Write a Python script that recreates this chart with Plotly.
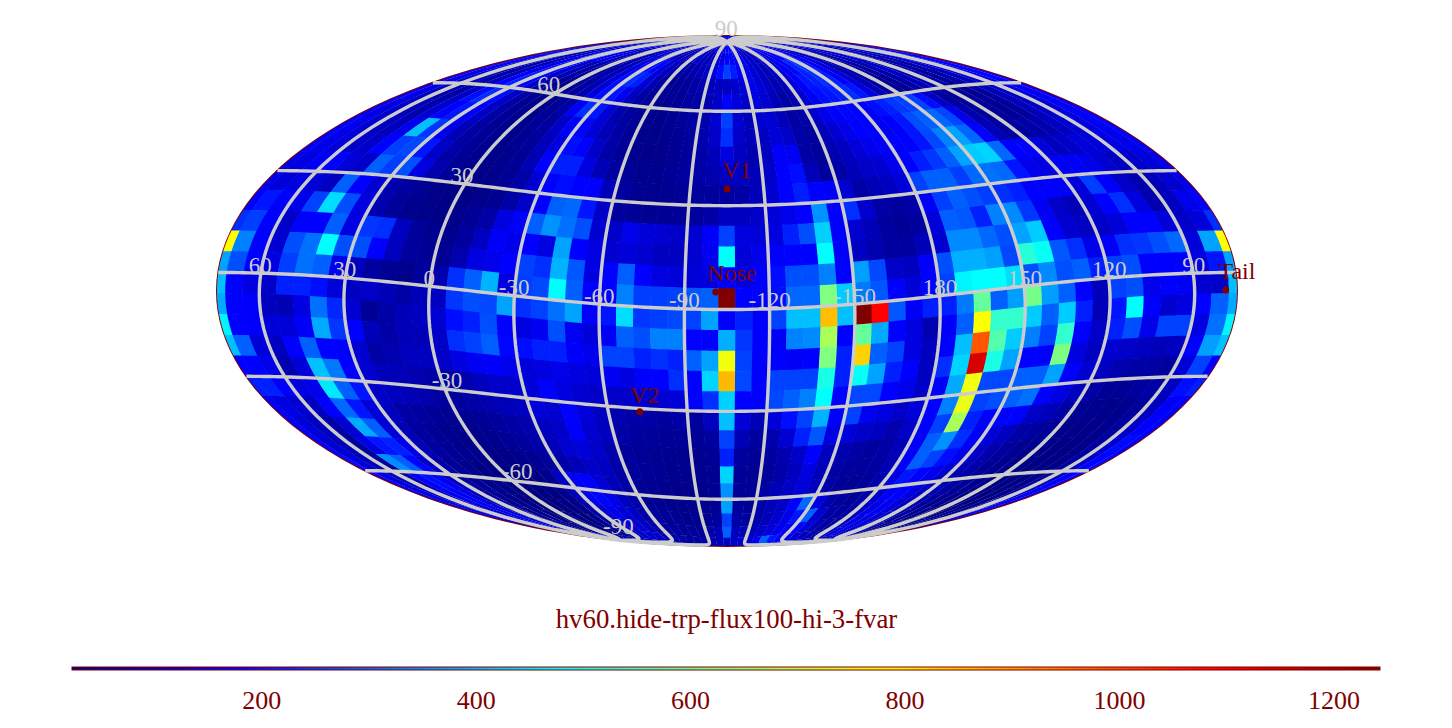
import plotly.graph_objects as go

# 60 x 30 sky map values. Columns run left to right, rows north to south.
row_n87 = [180,170,150,140,130,120,130,150,170,160,140,130,120,110,110,120,130,140,120,110,110,120,130,140,130,120,110,120,130,160,175,180,170,150,130,120,110,120,130,150,160,170,180,170,150,140,130,120,110,110,120,130,140,130,120,130,140,150,160,170]
row_n81 = [170,160,140,110,90,90,110,130,150,140,120,100,90,90,100,110,130,140,120,100,90,90,110,120,110,100,90,100,120,140,175,180,160,150,130,110,100,110,130,140,150,170,190,180,150,130,110,100,90,90,110,120,110,100,90,100,120,130,150,160]
row_n75 = [210,190,150,110,90,100,140,250,220,170,130,100,80,70,80,100,130,170,190,180,130,100,80,70,70,80,90,110,140,190,252,210,170,150,130,100,90,100,130,150,180,220,240,210,170,130,100,80,70,80,100,120,110,90,80,90,120,140,170,190]
row_n69 = [190,170,130,100,80,90,150,190,170,120,90,70,60,60,70,90,130,190,230,213,130,90,60,50,50,60,70,80,90,100,100,110,130,150,130,100,80,90,130,170,200,213,230,213,170,130,90,70,60,60,80,100,100,80,70,80,110,130,150,170]
row_n63 = [180,150,110,90,70,90,170,213,175,110,70,50,45,50,60,80,130,190,200,160,100,70,50,45,45,50,60,70,80,110,175,130,110,130,120,90,70,80,120,160,190,200,213,230,200,140,90,60,50,50,70,90,90,70,60,70,100,120,150,175]
row_n57 = [170,140,100,80,70,100,190,230,190,110,70,45,40,40,50,70,170,230,200,130,80,60,45,40,40,45,55,65,80,120,252,120,90,120,120,90,65,70,110,150,170,180,175,175,190,213,240,252,252,190,110,60,50,50,50,60,90,110,140,165]
row_n51 = [170,140,110,90,80,120,175,200,170,110,70,50,40,40,50,60,110,170,175,130,90,70,50,40,35,40,50,60,80,110,230,110,90,100,130,110,70,60,90,120,150,175,175,160,170,200,270,290,300,260,150,80,55,50,50,60,90,110,130,160]
row_n45 = [175,150,120,100,90,150,405,240,150,90,65,50,40,35,45,55,90,140,190,175,110,70,50,40,35,35,45,55,70,90,140,100,80,100,170,160,70,55,80,100,130,150,170,175,175,200,260,330,370,300,175,90,60,60,70,80,100,120,140,160]
row_n39 = [165,150,130,110,110,175,250,260,200,110,70,50,40,35,40,50,85,175,213,213,140,90,60,50,40,40,50,60,70,80,100,100,90,110,175,190,90,60,70,90,110,120,150,175,210,240,290,370,420,430,300,175,175,130,100,110,130,130,140,150]
row_n33 = [150,140,170,175,130,110,290,250,270,140,80,55,40,35,35,50,70,120,175,190,175,175,90,60,45,40,45,50,60,60,60,70,90,120,175,210,175,170,120,70,85,100,130,252,290,290,250,300,310,300,200,150,140,160,170,150,120,100,110,130]
row_n27 = [150,130,140,130,100,290,175,120,80,60,45,35,30,30,35,45,70,110,175,290,300,200,110,60,50,45,45,50,60,70,100,100,110,130,150,175,350,175,230,120,70,60,70,170,250,290,270,250,230,213,175,175,170,130,250,170,110,80,90,120]
row_n21 = [175,200,175,150,252,440,270,140,80,55,40,35,30,35,50,70,140,175,290,350,310,270,120,110,150,130,120,110,120,170,252,140,130,140,213,270,425,175,120,90,60,50,60,130,290,280,213,330,340,240,160,110,90,120,175,230,140,80,100,150]
row_n15 = [230,250,175,110,175,175,290,140,240,230,100,55,40,40,60,100,170,150,175,140,370,175,140,120,130,120,100,100,120,160,480,130,150,175,175,175,480,170,100,80,60,60,90,120,340,340,300,270,370,420,175,120,100,110,130,175,175,130,110,130]
row_n09 = [785,330,175,120,270,310,480,270,270,175,100,60,50,50,80,140,150,175,252,230,390,280,140,175,290,175,140,130,130,140,175,140,175,190,270,270,328,175,365,260,110,100,170,270,385,385,365,260,530,490,280,230,150,170,230,240,270,300,130,370]
row_n03 = [370,270,175,140,250,310,290,150,100,60,45,35,60,80,230,290,390,140,250,260,480,290,175,175,330,250,250,252,280,290,1243,175,175,190,300,300,633,420,320,280,175,130,175,252,470,480,480,440,270,340,270,290,213,250,270,175,175,175,140,200]
row_s03 = [405,175,140,110,213,213,190,130,100,110,90,70,90,100,240,270,260,370,230,252,310,370,175,200,440,240,250,260,252,370,175,213,170,252,405,405,862,405,1243,1090,280,165,213,213,320,600,290,365,620,365,290,175,90,252,270,150,175,160,120,110]
row_s09 = [380,175,170,100,85,140,310,220,120,50,70,90,100,120,190,213,270,175,140,160,270,160,130,160,290,270,328,328,175,175,385,240,175,165,330,340,680,175,600,380,175,140,80,170,290,785,540,540,420,290,420,213,90,200,480,175,120,140,175,290]
row_s15 = [470,175,170,130,130,165,380,240,175,90,70,90,90,110,230,252,290,180,190,213,213,170,150,252,252,213,230,213,290,370,770,252,175,175,165,175,633,213,840,290,252,140,100,175,405,990,580,420,328,252,540,175,110,213,270,150,252,252,140,310]
row_s21 = [405,290,130,100,175,290,175,175,120,70,80,100,100,110,140,160,170,150,130,140,150,140,130,160,140,175,175,230,175,430,870,260,175,252,252,252,510,213,490,370,213,175,100,230,430,1140,510,370,175,175,630,140,100,120,110,100,90,100,175,367]
row_s27 = [175,175,150,80,130,405,320,175,120,90,90,80,70,70,80,100,110,110,130,175,140,120,110,110,110,110,120,130,175,230,425,175,175,260,290,328,480,175,260,260,175,150,110,170,380,770,260,260,290,290,370,175,120,100,80,70,70,60,130,252]
row_s33 = [213,213,170,140,150,455,290,200,110,100,90,80,60,60,70,80,90,100,130,120,175,130,100,80,70,70,60,70,60,100,405,130,85,130,190,252,390,175,252,160,140,110,130,175,328,760,252,270,290,310,175,140,100,70,50,50,60,70,100,190]
row_s39 = [170,140,120,100,175,300,200,130,100,70,60,50,45,45,50,60,70,80,100,110,170,120,100,70,60,55,50,50,50,60,252,85,60,80,120,213,280,140,130,110,100,80,110,175,252,680,213,175,175,175,110,90,70,50,40,35,40,60,100,170]
row_s45 = [170,130,100,70,120,380,290,130,85,60,50,40,35,35,40,50,60,70,90,120,130,110,80,60,50,45,40,40,40,50,213,60,50,60,80,110,175,100,80,70,60,70,90,170,290,350,230,170,130,100,70,60,50,40,35,35,40,60,110,175]
row_s51 = [175,120,90,60,140,200,213,150,90,60,50,40,35,30,30,35,45,55,70,90,110,100,70,55,50,45,40,40,40,45,430,50,45,55,70,100,140,90,70,60,55,60,85,170,290,252,190,150,110,80,60,45,40,35,30,30,35,60,120,185]
row_s57 = [185,130,90,60,345,290,180,110,70,50,40,30,28,26,26,30,40,100,170,175,130,90,65,50,45,40,35,35,35,45,350,50,50,70,90,110,130,100,70,50,45,55,80,140,200,175,150,120,90,70,50,40,35,30,28,28,35,60,110,180]
row_s63 = [175,130,100,70,170,190,160,100,65,50,40,30,26,24,24,28,35,90,160,180,150,100,70,50,45,40,35,35,35,50,367,60,50,70,90,110,175,300,140,80,55,50,70,110,170,175,140,110,85,65,50,40,32,28,26,28,35,60,100,170]
row_s69 = [170,130,110,90,150,170,140,90,60,45,35,28,24,22,22,26,32,70,120,150,130,100,75,55,50,45,40,40,40,60,252,70,60,70,90,120,150,200,290,120,70,55,65,100,150,160,130,100,80,60,45,35,30,26,24,26,35,60,100,160]
row_s75 = [175,150,130,110,130,150,130,90,60,45,35,30,26,25,25,28,35,60,100,130,125,100,75,60,55,50,50,55,65,90,290,100,80,90,110,130,150,170,180,130,90,65,65,95,140,150,125,100,80,60,45,38,32,28,26,30,40,70,110,150]
row_s81 = [170,160,150,130,130,140,120,90,65,50,40,35,30,30,30,35,40,55,85,110,110,100,80,70,65,60,60,65,75,90,100,110,110,120,150,290,200,180,150,120,95,75,70,90,130,140,120,100,80,60,50,42,36,32,30,35,50,85,120,150]
row_s87 = [120,115,110,105,100,100,100,95,90,85,80,75,70,70,70,75,80,85,90,95,100,100,95,90,85,85,85,90,95,100,100,105,110,110,120,130,140,135,125,115,105,95,90,90,95,100,100,95,90,85,80,75,70,70,70,75,85,95,105,115]

rows = [row_n87, row_n81, row_n75, row_n69, row_n63, row_n57, row_n51, row_n45, row_n39, row_n33,
        row_n27, row_n21, row_n15, row_n09, row_n03, row_s03, row_s09, row_s15, row_s21, row_s27,
        row_s33, row_s39, row_s45, row_s51, row_s57, row_s63, row_s69, row_s75, row_s81, row_s87]
for r in rows:
    assert len(r) == 60, len(r)

lon_ticks = [60, 30, 0, -30, -60, -90, -120, -150, 180, 150, 120, 90]
lat_ticks = [90, 60, 30, -30, -60, -90]
lat_tick_anchor = [89.9, 58.5, 28.5, -31.5, -61.5, -89.6]
meridian_lons = [60, 30, 0, -30, -60, -90, -120, -150, 180, 150, 120, 90]
parallel_lats = [60, 30, 0, -30, -60]
place_names = ["V1", "Nose", "V2", "Tail"]
place_lons = [255, 259, 288, 79]
place_lats = [35, 5, -31, -5]
label_lon_shift = [2, 3, 3.5, 2.5]
label_lat_shift = [1.5, 1.5, 0.7, 1.5]
colorbar_ticks = [200, 400, 600, 800, 1000, 1200]
title_text = "hv60.hide-trp-flux100-hi-3-fvar"

CENTER = 105      # plotted longitude is the negative of the map's longitude, so it grows to the right
TILT = 5.3
GREY = "#CCCCCC"
DARK = "#800000"
SERIF = "Liberation Serif"
W, H = 1444, 720  # the page body adds 8 px of margin on each side
OVERLAP = 0.2     # degrees, hides hairline seams between neighbouring cells
jet = [[0, "#000080"], [0.125, "#0000FF"], [0.375, "#00FFFF"], [0.625, "#FFFF00"], [0.875, "#FF0000"], [1, "#800000"]]


def fx(px):
    return (px - 8) / W


def fy(py):
    return 1 - (py - 8) / H


def cell(k, r):
    w = CENTER - 180 + 6 * k - 3 - OVERLAP / 2
    e = w + 6 + OVERLAP
    n = min(90 - 6 * r + OVERLAP / 2, 89.99)
    s = max(90 - 6 * r - 6 - OVERLAP / 2, -89.99)
    steps = [w + (e - w) * i / 4 for i in range(5)]
    ring = [[steps[0], s]] + [[x, n] for x in steps] + [[x, s] for x in reversed(steps)]
    return {"type": "Feature", "id": f"{k}-{r}", "properties": {}, "geometry": {"type": "Polygon", "coordinates": [ring]}}


features, ids, vals = [], [], []
for r, row in enumerate(rows):
    for k, v in enumerate(row):
        features.append(cell(k, r))
        ids.append(f"{k}-{r}")
        vals.append(v)

fig = go.Figure()
fig.add_trace(go.Choropleth(
    geojson={"type": "FeatureCollection", "features": features},
    locations=ids, z=vals, zmin=23, zmax=1243, colorscale=jet,
    marker_line_width=0, hoverinfo="skip",
    colorbar=dict(orientation="h", x=fx(726), xanchor="center", y=fy(666.5), yanchor="top",
                  lenmode="pixels", len=1308, thickness=3, xpad=0, ypad=0,
                  outlinecolor=DARK, outlinewidth=1, tickvals=colorbar_ticks,
                  ticks="outside", ticklen=8, tickcolor="rgba(0,0,0,0)",
                  tickfont=dict(family=SERIF, size=26, color=DARK)),
))

# graticule
glon, glat = [], []
for L in meridian_lons:
    lats = list(range(-90, 91, 2))
    glon += [-L] * len(lats) + [None]
    glat += lats + [None]
for P in parallel_lats:
    lons = list(range(-180, 181, 2))
    glon += lons + [None]
    glat += [P] * len(lons) + [None]
fig.add_trace(go.Scattergeo(lon=glon, lat=glat, mode="lines", line=dict(color=GREY, width=3.4),
                            hoverinfo="skip", showlegend=False))

# axis labels, nudged down a little so they sit on their lines
fig.add_trace(go.Scattergeo(lon=[-v for v in lon_ticks], lat=[-1.5] * len(lon_ticks), mode="text",
                            text=[str(v) for v in lon_ticks], textposition="top center",
                            textfont=dict(family=SERIF, size=23, color=GREY), hoverinfo="skip", showlegend=False))
fig.add_trace(go.Scattergeo(lon=[0] * len(lat_ticks), lat=lat_tick_anchor,
                            mode="text", text=[str(v) for v in lat_ticks], textposition="top center",
                            textfont=dict(family=SERIF, size=23, color=GREY), hoverinfo="skip", showlegend=False))

# places
fig.add_trace(go.Scattergeo(lon=[-v for v in place_lons], lat=place_lats, mode="markers",
                            marker=dict(color=DARK, size=7, line=dict(width=0)), hoverinfo="skip", showlegend=False))
fig.add_trace(go.Scattergeo(lon=[-(a + b) for a, b in zip(place_lons, label_lon_shift)],
                            lat=[a + b for a, b in zip(place_lats, label_lat_shift)], mode="text",
                            text=place_names, textposition="top right",
                            textfont=dict(family=SERIF, size=24, color=DARK), hoverinfo="skip", showlegend=False))

# The map frame is wider than the ellipse so labels at the rim are not clipped;
# projection.scale brings the ellipse back to its 1020 px width.
FRAME_W, FRAME_H = 1100, 550
fig.update_layout(
    width=W, height=H, autosize=False,
    margin=dict(l=0, r=0, t=0, b=0), paper_bgcolor="white", showlegend=False,
    title=dict(text=title_text, x=fx(726.5), xanchor="center", y=fy(619), yanchor="middle",
               font=dict(family=SERIF, size=26.8, color=DARK)),
    geo=dict(
        domain=dict(x=[fx(727 - FRAME_W / 2), fx(727 + FRAME_W / 2)], y=[fy(291 + FRAME_H / 2), fy(291 - FRAME_H / 2)]),
        projection=dict(type="mollweide", rotation=dict(lon=CENTER, lat=TILT, roll=0), scale=1020 / FRAME_W),
        showland=False, showcoastlines=False, showocean=False, showlakes=False, showrivers=False,
        showcountries=False, showframe=True, framecolor=DARK, framewidth=2, bgcolor="white",
        lonaxis=dict(showgrid=False), lataxis=dict(showgrid=False),
    ),
)

# no base map layer is shown, so hand plotly an empty topology instead of the default download
EMPTY_TOPOLOGY = 'data:application/json,%7B%22type%22:%22Topology%22,%22objects%22:%7B%7D,%22arcs%22:%5B%5D%7D#'
fig.write_html("out.html", config={"topojsonURL": EMPTY_TOPOLOGY, "displayModeBar": False})
